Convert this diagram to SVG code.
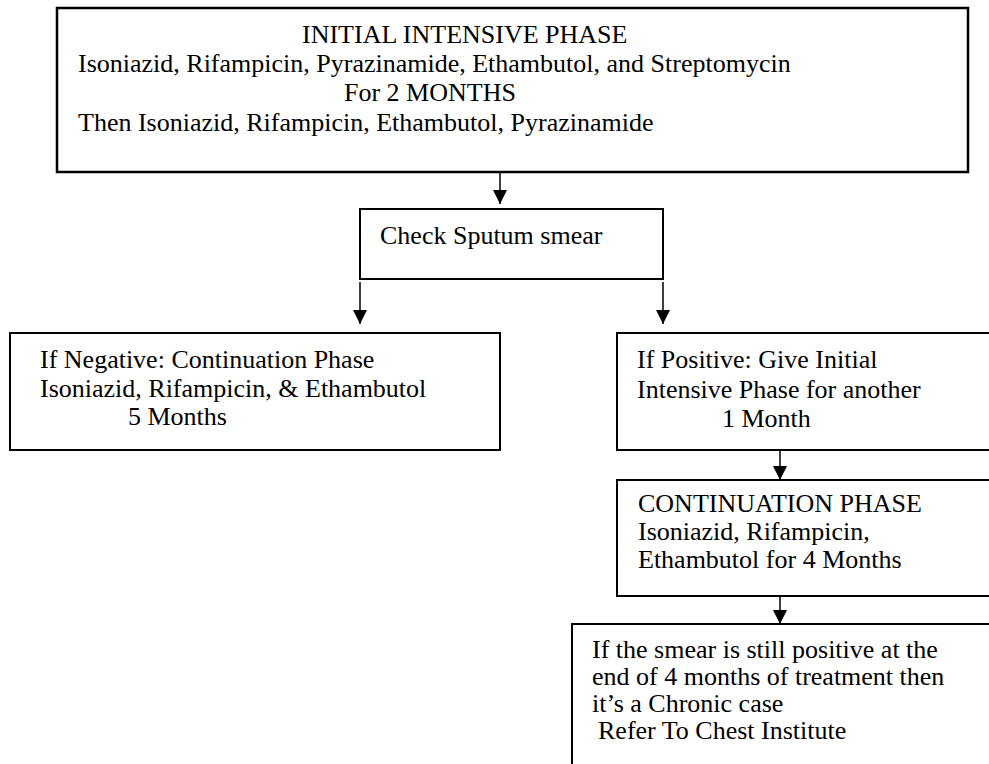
<svg xmlns="http://www.w3.org/2000/svg" width="989" height="764" viewBox="0 0 989 764">
<style>
  .box { fill: #ffffff; stroke: #000000; stroke-width: 2; }
  .thick { stroke-width: 2.5; }
  .t { font-family: "Liberation Serif", "Times New Roman", serif; font-size: 26px; fill: #000000; }
  .conn { stroke: #000000; stroke-width: 1.5; fill: none; }
</style>
<defs>
  <marker id="arrow" viewBox="0 0 14 14" refX="14" refY="7" markerWidth="14" markerHeight="14" markerUnits="userSpaceOnUse" orient="auto">
    <path d="M0,0 L14,7 L0,14 z" fill="#000000"/>
  </marker>
</defs>
<rect x="0" y="0" width="989" height="764" fill="#ffffff"/>

<g id="initial-phase">
  <rect class="box thick" x="57" y="8" width="911" height="164"/>
  <text class="t" x="302" y="43">INITIAL INTENSIVE PHASE</text>
  <text class="t" x="78" y="72">Isoniazid, Rifampicin, Pyrazinamide, Ethambutol, and Streptomycin</text>
  <text class="t" x="344" y="101">For 2 MONTHS</text>
  <text class="t" x="78" y="131">Then Isoniazid, Rifampicin, Ethambutol, Pyrazinamide</text>
</g>

<g id="check-sputum">
  <rect class="box" x="360" y="209" width="303" height="70"/>
  <text class="t" x="380" y="244">Check Sputum smear</text>
</g>

<g id="negative">
  <rect class="box" x="10" y="333" width="490" height="117"/>
  <text class="t" x="40" y="368">If Negative: Continuation Phase</text>
  <text class="t" x="40" y="397">Isoniazid, Rifampicin, &amp; Ethambutol</text>
  <text class="t" x="128" y="425">5 Months</text>
</g>

<g id="positive">
  <rect class="box" x="617" y="333" width="400" height="117"/>
  <text class="t" x="637" y="368">If Positive: Give Initial</text>
  <text class="t" x="637" y="398">Intensive Phase for another</text>
  <text class="t" x="722" y="427">1 Month</text>
</g>

<g id="continuation">
  <rect class="box" x="617" y="480" width="400" height="116"/>
  <text class="t" x="638" y="512">CONTINUATION PHASE</text>
  <text class="t" x="638" y="540">Isoniazid, Rifampicin,</text>
  <text class="t" x="638" y="568">Ethambutol for 4 Months</text>
</g>

<g id="chronic">
  <rect class="box" x="572" y="624" width="440" height="160"/>
  <text class="t" x="592" y="658">If the smear is still positive at the</text>
  <text class="t" x="592" y="685">end of 4 months of treatment then</text>
  <text class="t" x="592" y="712">it’s a Chronic case</text>
  <text class="t" x="598" y="739">Refer To Chest Institute</text>
</g>

<g id="connectors">
  <line class="conn" x1="500" y1="173" x2="500" y2="204" marker-end="url(#arrow)"/>
  <line class="conn" x1="360" y1="282" x2="360" y2="324" marker-end="url(#arrow)"/>
  <line class="conn" x1="663" y1="282" x2="663" y2="324" marker-end="url(#arrow)"/>
  <line class="conn" x1="780" y1="451" x2="780" y2="480" marker-end="url(#arrow)"/>
  <line class="conn" x1="780" y1="597" x2="780" y2="624" marker-end="url(#arrow)"/>
</g>
</svg>
